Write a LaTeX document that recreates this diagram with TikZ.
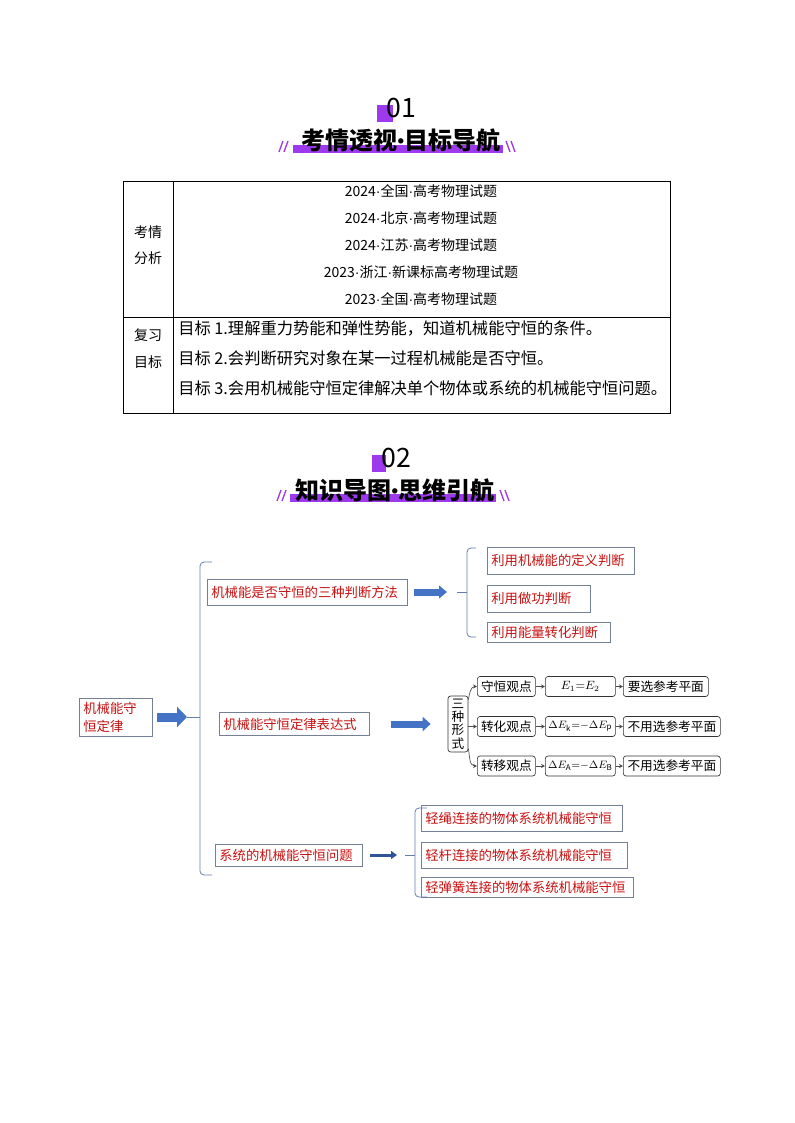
\documentclass[tikz,border=0pt]{standalone}
\usepackage{fontspec}
\setmainfont{Noto Sans CJK SC}
\newfontfamily\dotfont{Liberation Sans}
\newcommand\tabdot{{\dotfont ·}}
\newcommand\hddot{\raisebox{1.5pt}{\dotfont\fontsize{14}{14}\selectfont •}}
\usetikzlibrary{arrows.meta}

\definecolor{hdpurple}{RGB}{158,58,238}
\definecolor{mmred}{RGB}{200,16,16}
\definecolor{boxgray}{RGB}{115,128,150}
\definecolor{brkblue}{RGB}{100,125,175}
\definecolor{arrblue}{RGB}{68,114,196}
\definecolor{arrdark}{RGB}{47,85,151}

\tikzset{
  hdnum/.style={font=\fontsize{20}{20}\selectfont, inner sep=0pt},
  hdtitle/.style={font=\bfseries\fontsize{18}{18}\selectfont, inner sep=0pt},
  hdslash/.style={hdpurple, line width=1pt},
  tabline/.style={draw=black, line width=0.6pt},
  cell/.style={inner sep=0pt, align=center},
  mmbox/.style 2 args={draw=boxgray, line width=0.6pt, text=mmred,
    font=\fontsize{10}{12}\selectfont, inner xsep=3pt, inner ysep=0pt,
    text width=#1, minimum height=#2, align=left, anchor=west},
  vbox/.style={draw=black!80, line width=0.5pt, rounded corners=2pt,
    font=\fontsize{9.5}{11}\selectfont, inner sep=0pt, minimum height=15pt, anchor=west},
  tinyarrow/.style={draw=black!70, line width=0.5pt, -{Stealth[length=3pt,width=3pt]}},
  bigarrow/.style n args={3}{draw=arrblue, line width=#1, -{Triangle[length=#2,width=#3]}},
  brk/.style={draw=brkblue, line width=0.6pt, rounded corners=3pt}
}

\begin{document}
\begin{tikzpicture}[x=0.75pt,y=-0.75pt]
\useasboundingbox (0,0) rectangle (794,1123);

% heading 01
\fill[hdpurple] (377,105) rectangle (393,122);
\node[hdnum] (num1) at (401,108) {01};
\fill[hdpurple] (293,145) rectangle (503,153);
\node[hdtitle] (title1) at (401,140) {考情透视\hddot 目标导航};
\draw[hdslash] (279,152) -- (283,141) (284,152) -- (288,141);
\draw[hdslash] (506,141) -- (510,152) (511,141) -- (515,152);

% table
\draw[tabline] (123,181) rectangle (670,413);
\draw[tabline] (173,181) -- (173,413);
\draw[tabline] (123,317) -- (670,317);

\node[cell, font=\fontsize{10.5}{19.5}\selectfont] (kq) at (148,245) {考情\\分析};
\node[cell, font=\fontsize{10.5}{20.25}\selectfont] (fx) at (148,348.5) {复习\\目标};
\node[cell, font=\fontsize{10.5}{20.25}\selectfont] (src) at (421,245)
  {2024\tabdot 全国\tabdot 高考物理试题\\2024\tabdot 北京\tabdot 高考物理试题\\2024\tabdot 江苏\tabdot 高考物理试题\\2023\tabdot 浙江\tabdot 新课标高考物理试题\\2023\tabdot 全国\tabdot 高考物理试题};
\node[inner sep=0pt, align=left, anchor=west, font=\fontsize{12.2}{22.5}\selectfont] (goal) at (178,358)
  {目标 1.理解重力势能和弹性势能，知道机械能守恒的条件。\\目标 2.会判断研究对象在某一过程机械能是否守恒。\\目标 3.会用机械能守恒定律解决单个物体或系统的机械能守恒问题。};

% heading 02
\fill[hdpurple] (372,455) rectangle (386,472);
\node[hdnum] (num2) at (396,458) {02};
\fill[hdpurple] (290,494) rectangle (496,502);
\node[hdtitle] (title2) at (395,490) {知识导图\hddot 思维引航};
\draw[hdslash] (277,501) -- (281,490) (282,501) -- (286,490);
\draw[hdslash] (500,490) -- (504,501) (505,490) -- (509,501);

% mind map
\node[mmbox={48.75pt}{28.5pt}, font=\fontsize{10}{13.5}\selectfont] (root) at (79,717) {机械能守\\恒定律};

\node[mmbox={144pt}{19.5pt}] (judge) at (207,592) {机械能是否守恒的三种判断方法};
\node[mmbox={106.5pt}{17.25pt}] (expr) at (219,724) {机械能守恒定律表达式};
\node[mmbox={104.25pt}{16.5pt}] (sys) at (215,855) {系统的机械能守恒问题};

\coordinate (mainin) at (187,717);
\coordinate (mainbr) at (200,717);
\draw[bigarrow={6.75pt}{7.5pt}{15pt}] ([xshift=3pt]root.east) -- (mainin);
\draw[brk] (mainin) -- (mainbr);
\draw[brk] (212,562) -- (200,562) -- (200,875) -- (212,875);

% three ways to judge
\node[mmbox={104.25pt}{20.25pt}] (j1) at (487,560.5) {利用机械能的定义判断};
\node[mmbox={71.25pt}{20.25pt}] (j2) at (487,598.5) {利用做功判断};
\node[mmbox={86.25pt}{15pt}] (j3) at (487,632) {利用能量转化判断};

\coordinate (judgein) at (447,592);
\coordinate (judgest) at (457,592);
\coordinate (judgebr) at (467,592);
\draw[bigarrow={5.25pt}{6pt}{9.5pt}] ([xshift=5pt]judge.east) -- (judgein);
\draw[brk] (judgest) -- (judgebr);
\draw[brk] (476,548) -- (467,548) -- (467,637) -- (476,637);

% expressions
\node[vbox, anchor=center, minimum width=15pt, minimum height=42pt, align=center,
  font=\fontsize{9.5}{10}\selectfont] (forms) at (458,724) {三\\种\\形\\式};
\draw[bigarrow={5.25pt}{6pt}{10.5pt}] ([xshift=15.75pt]expr.east) -- ([xshift=-12.75pt]forms.west);

\node[vbox, minimum width=43.5pt] (v1) at (477,686.5) {守恒观点};
\node[vbox, minimum width=52.5pt, font=\fontsize{9}{10}\selectfont] (e1) at (545,686.5) {$E_1{=}E_2$};
\node[vbox, minimum width=63.75pt] (r1) at (623,686.5) {要选参考平面};

\node[vbox, minimum width=43.5pt] (v2) at (477,726.5) {转化观点};
\node[vbox, minimum width=52.5pt, font=\fontsize{8.5}{10}\selectfont] (e2) at (545,726.5) {$\Delta E_{\mathrm{k}}{=}{-}\Delta E_{\mathrm{p}}$};
\node[vbox, minimum width=72.75pt] (r2) at (623,726.5) {不用选参考平面};

\node[vbox, minimum width=43.5pt] (v3) at (477,766) {转移观点};
\node[vbox, minimum width=52.5pt, font=\fontsize{8.5}{10}\selectfont] (e3) at (545,766) {$\Delta E_{\mathrm{A}}{=}{-}\Delta E_{\mathrm{B}}$};
\node[vbox, minimum width=72.75pt] (r3) at (623,766) {不用选参考平面};

\draw[tinyarrow] ([yshift=-3pt]forms.north east) to[out=80,in=180] (v1.west);
\draw[tinyarrow] (forms.east |- v2.west) -- (v2.west);
\draw[tinyarrow] ([yshift=3pt]forms.south east) to[out=-80,in=180] (v3.west);
\draw[tinyarrow] (v1) -- (e1);
\draw[tinyarrow] (e1) -- (r1);
\draw[tinyarrow] (v2) -- (e2);
\draw[tinyarrow] (e2) -- (r2);
\draw[tinyarrow] (v3) -- (e3);
\draw[tinyarrow] (e3) -- (r3);

% systems
\node[mmbox={144.75pt}{19.5pt}] (s1) at (421,818) {轻绳连接的物体系统机械能守恒};
\node[mmbox={148.5pt}{19.5pt}] (s2) at (421,855) {轻杆连接的物体系统机械能守恒};
\node[mmbox={153pt}{15pt}] (s3) at (421,887) {轻弹簧连接的物体系统机械能守恒};

\coordinate (sysin) at (397,855);
\coordinate (sysst) at (405,855);
\coordinate (sysbr) at (415,855);
\draw[bigarrow={2.25pt}{4.5pt}{6pt}, draw=arrdark] ([xshift=5.25pt]sys.east) -- (sysin);
\draw[brk] (sysst) -- (sysbr);
\draw[brk] (427,808) -- (415,808) -- (415,897) -- (427,897);

\end{tikzpicture}
\end{document}
